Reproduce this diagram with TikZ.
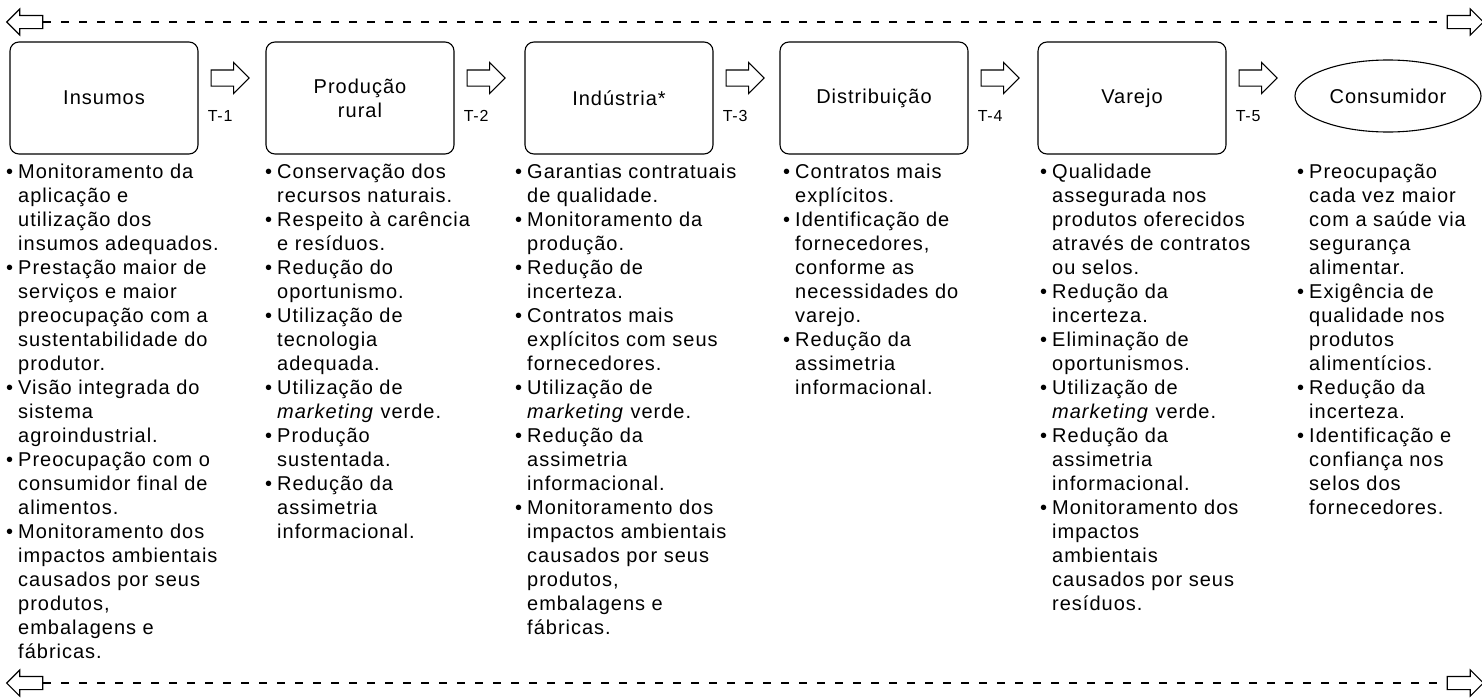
\documentclass[tikz,border=0pt]{standalone}
\usepackage{fontspec}
\setmainfont{Liberation Sans}[LetterSpace=5]
\usetikzlibrary{positioning,shapes.geometric,shapes.arrows}

\begin{document}
\begin{tikzpicture}[x=1pt,y=-1pt,
    etapa/.style={draw, line width=1.1pt, rounded corners=9pt, minimum width=188pt,
                  minimum height=112pt, align=center, font=\fontsize{20}{24}\selectfont},
    seta/.style={single arrow, draw, line width=1.1pt, minimum height=38pt, minimum width=30pt,
                 inner xsep=0pt, inner ysep=7.5pt, single arrow head extend=7.5pt},
    ponta/.style={seta, minimum height=36pt, minimum width=25pt, inner ysep=6pt,
                  single arrow head extend=6.5pt},
    trans/.style={font=\fontsize{16}{18}\selectfont, inner sep=0pt},
    lista/.style={anchor=north west, inner sep=0pt, font=\fontsize{20}{24}\selectfont},
    tracejado/.style={line width=1.1pt, dash pattern=on 8pt off 10pt}]
\useasboundingbox (0,0) rectangle (1482,699);

% linhas tracejadas
\node[ponta, shape border rotate=180] (tl) at (28,22) {};
\node[ponta] (tr) at (1462,22) {};
\draw[tracejado] (tl.tail) -- (tr.tail);
\node[ponta, shape border rotate=180] (bl) at (28,683) {};
\node[ponta] (br) at (1462,683) {};
\draw[tracejado] (bl.tail) -- (br.tail);

% elos da cadeia
\node[etapa] (b1) at (104,98) {Insumos};
\node[etapa] (b2) at (360,98) {Produção\\rural};
\node[etapa] (b3) at (619,98) {Indústria*};
\node[etapa] (b4) at (874,98) {Distribuição};
\node[etapa] (b5) at (1132,98) {Varejo};
\node[draw, ellipse, line width=1.1pt, minimum width=186pt, minimum height=72pt, inner sep=0pt,
      font=\fontsize{20}{24}\selectfont] (b6) at (1388,96) {Consumidor};

% transacoes
\foreach \i in {1,...,5} {
  \node[seta, right=12pt of b\i.east, yshift=20pt] (a\i) {};
  \node[trans, right=9pt of b\i.east, yshift=-18pt] (t\i) {T-\i};
}

% listas
\node[lista] (l1) at (6,161) {\begin{tabular}{@{}l@{\hspace{5pt}}l@{}}
\textbullet & Monitoramento da\\ & aplicação e\\ & utilização dos\\ & insumos adequados.\\
\textbullet & Prestação maior de\\ & serviços e maior\\ & preocupação com a\\ & sustentabilidade do\\ & produtor.\\
\textbullet & Visão integrada do\\ & sistema\\ & agroindustrial.\\
\textbullet & Preocupação com o\\ & consumidor final de\\ & alimentos.\\
\textbullet & Monitoramento dos\\ & impactos ambientais\\ & causados por seus\\ & produtos,\\ & embalagens e\\ & fábricas.
\end{tabular}};
\node[lista] (l2) at (265,161) {\begin{tabular}{@{}l@{\hspace{5pt}}l@{}}
\textbullet & Conservação dos\\ & recursos naturais.\\
\textbullet & Respeito à carência\\ & e resíduos.\\
\textbullet & Redução do\\ & oportunismo.\\
\textbullet & Utilização de\\ & tecnologia\\ & adequada.\\
\textbullet & Utilização de\\ & \textit{marketing} verde.\\
\textbullet & Produção\\ & sustentada.\\
\textbullet & Redução da\\ & assimetria\\ & informacional.
\end{tabular}};
\node[lista] (l3) at (515,161) {\begin{tabular}{@{}l@{\hspace{5pt}}l@{}}
\textbullet & Garantias contratuais\\ & de qualidade.\\
\textbullet & Monitoramento da\\ & produção.\\
\textbullet & Redução de\\ & incerteza.\\
\textbullet & Contratos mais\\ & explícitos com seus\\ & fornecedores.\\
\textbullet & Utilização de\\ & \textit{marketing} verde.\\
\textbullet & Redução da\\ & assimetria\\ & informacional.\\
\textbullet & Monitoramento dos\\ & impactos ambientais\\ & causados por seus\\ & produtos,\\ & embalagens e\\ & fábricas.
\end{tabular}};
\node[lista] (l4) at (783,161) {\begin{tabular}{@{}l@{\hspace{5pt}}l@{}}
\textbullet & Contratos mais\\ & explícitos.\\
\textbullet & Identificação de\\ & fornecedores,\\ & conforme as\\ & necessidades do\\ & varejo.\\
\textbullet & Redução da\\ & assimetria\\ & informacional.
\end{tabular}};
\node[lista] (l5) at (1040,161) {\begin{tabular}{@{}l@{\hspace{5pt}}l@{}}
\textbullet & Qualidade\\ & assegurada nos\\ & produtos oferecidos\\ & através de contratos\\ & ou selos.\\
\textbullet & Redução da\\ & incerteza.\\
\textbullet & Eliminação de\\ & oportunismos.\\
\textbullet & Utilização de\\ & \textit{marketing} verde.\\
\textbullet & Redução da\\ & assimetria\\ & informacional.\\
\textbullet & Monitoramento dos\\ & impactos\\ & ambientais\\ & causados por seus\\ & resíduos.
\end{tabular}};
\node[lista] (l6) at (1297,161) {\begin{tabular}{@{}l@{\hspace{5pt}}l@{}}
\textbullet & Preocupação\\ & cada vez maior\\ & com a saúde via\\ & segurança\\ & alimentar.\\
\textbullet & Exigência de\\ & qualidade nos\\ & produtos\\ & alimentícios.\\
\textbullet & Redução da\\ & incerteza.\\
\textbullet & Identificação e\\ & confiança nos\\ & selos dos\\ & fornecedores.
\end{tabular}};
\end{tikzpicture}
\end{document}
